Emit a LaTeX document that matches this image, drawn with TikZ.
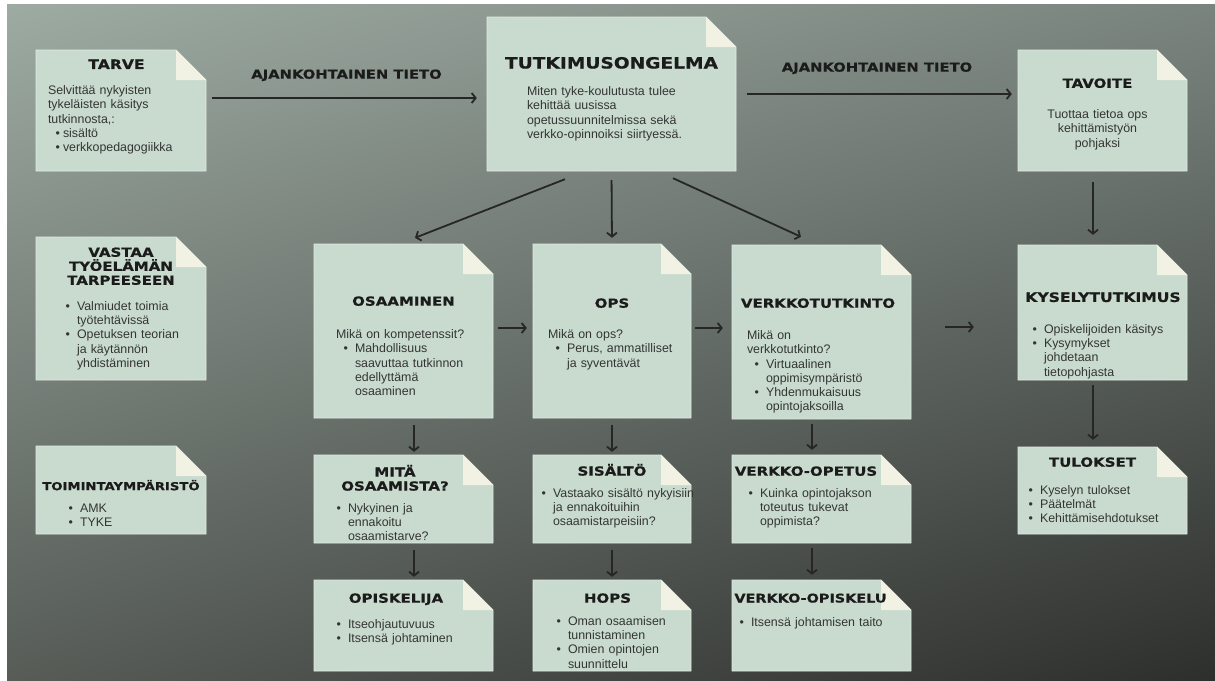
\documentclass[tikz,border=0pt]{standalone}
\usepackage{fontspec}
\setmainfont{Liberation Sans}
\newfontfamily\titlefont{DejaVu Sans}[FakeStretch=1.2, BoldFeatures={FakeBold=0.6}]
\usetikzlibrary{arrows.meta,positioning,shadings}

\definecolor{bgUL}{HTML}{9DABA2}
\definecolor{bgUR}{HTML}{7A847E}
\definecolor{bgLL}{HTML}{575C57}
\definecolor{bgLR}{HTML}{2D2F2D}
\definecolor{notefill}{HTML}{C9DBCF}
\definecolor{notefold}{HTML}{F1F1E4}
\definecolor{noteline}{HTML}{E2EBE3}
\definecolor{titlecol}{HTML}{1B1B1B}
\definecolor{bodycol}{HTML}{333533}
\definecolor{arrowcol}{HTML}{262626}

\newenvironment{bullets}[1][7pt]{\begin{list}{\textbullet}{\setlength\labelsep{#1}\setlength\labelwidth{12pt}\setlength\leftmargin{\dimexpr#1+12pt\relax}\setlength\itemsep{0pt}\setlength\topsep{0pt}\setlength\parsep{0pt}\setlength\partopsep{0pt}}}{\end{list}}

\def\notebox(#1)(#2,#3)(#4,#5){%
  \fill[notefill, draw=noteline, line width=0.8pt] (#2,#3) -- ({#4-30},#3) -- (#4,{#3+30}) -- (#4,#5) -- (#2,#5) -- cycle;
  \fill[notefold] ({#4-30},#3) -- ({#4-30},{#3+30}) -- (#4,{#3+30}) -- cycle;
  \node[inner sep=0pt, minimum width={#4-#2}, minimum height={#5-#3}] (#1) at ({(#2+#4)/2},{(#3+#5)/2}) {};
}

\begin{document}
\begin{tikzpicture}[x=1pt, y=-1pt,
    notetitle/.style={inner sep=0pt, align=center, text=titlecol, font=\titlefont\bfseries\fontsize{12.5}{14}\selectfont},
    notebody/.style={inner sep=0pt, align=left, text width=170pt, text=bodycol, font=\fontsize{12.4}{14.3}\selectfont},
    flow/.style={draw=arrowcol, line width=1.8pt, -{Straight Barb[length=4pt,width=10pt]}},
    flowlabel/.style={inner sep=0pt, text=titlecol, font=\titlefont\bfseries\fontsize{12.3}{14}\selectfont}]

    %%%%% BACKGROUND %%%%%
    \useasboundingbox (0,0) rectangle (1215,680);
    \fill[white] (0,0) rectangle (1215,680);
    \shade[upper left=bgUL, upper right=bgUR, lower left=bgLL, lower right=bgLR] (7,4) rectangle (1215,680);

    %%%%% NOTES %%%%%
    \notebox(tarve)(36,50)(206,171)
    \notebox(ongelma)(487,17)(736,171)
    \notebox(tavoite)(1018,50)(1187,171)
    \notebox(vastaa)(36,237)(206,380)
    \notebox(toiminta)(36,446)(206,534)
    \notebox(osaaminen)(314,244)(493,418)
    \notebox(ops)(533,244)(691,418)
    \notebox(verkko)(732,245)(911,419)
    \notebox(kysely)(1018,245)(1187,380)
    \notebox(mita)(314,455)(493,543)
    \notebox(sisalto)(533,455)(691,543)
    \notebox(vopetus)(732,455)(911,543)
    \notebox(tulokset)(1018,447)(1187,534)
    \notebox(opiskelija)(314,580)(493,671)
    \notebox(hops)(533,580)(691,671)
    \notebox(vopiskelu)(732,580)(911,671)

    %%%%% TOP ROW %%%%%
    \node[notetitle, font=\titlefont\bfseries\fontsize{13}{15}\selectfont, below=9.5pt of tarve.north, xshift=-4.5pt] (tarve-title) {TARVE};
    \node[notebody, below right=35.5pt and 12pt of tarve.north west] (tarve-text) {Selvittää nykyisten\\tykeläisten käsitys\\tutkinnosta,:
      \begin{bullets}[3pt]\item sisältö \item verkkopedagogiikka\end{bullets}};

    \node[notetitle, font=\titlefont\bfseries\fontsize{15.5}{17}\selectfont, below=40pt of ongelma.north] (ongelma-title) {TUTKIMUSONGELMA};
    \node[notebody, below right=69.5pt and 40pt of ongelma.north west] (ongelma-text) {Miten tyke-koulutusta tulee\\kehittää uusissa\\opetussuunnitelmissa sekä\\verkko-opinnoiksi siirtyessä.};

    \node[notetitle, below=28.5pt of tavoite.north, xshift=-5pt] (tavoite-title) {TAVOITE};
    \node[notebody, align=center, below=59.5pt of tavoite.north, xshift=-5pt] (tavoite-text) {Tuottaa tietoa ops\\kehittämistyön\\pohjaksi};

    %%%%% LEFT COLUMN %%%%%
    \node[notetitle, below=10.5pt of vastaa.north] (vastaa-title) {VASTAA\\TYÖELÄMÄN\\TARPEESEEN};
    \node[notebody, below right=59pt and 22pt of vastaa.north west] (vastaa-text) {\begin{bullets}
      \item Valmiudet toimia\\työtehtävissä
      \item Opetuksen teorian\\ja käytännön\\yhdistäminen\end{bullets}};

    \node[notetitle, font=\titlefont\bfseries\fontsize{11}{13}\selectfont, below=34pt of toiminta.north] (toiminta-title) {TOIMINTAYMPÄRISTÖ};
    \node[notebody, below right=52pt and 25pt of toiminta.north west] (toiminta-text) {\begin{bullets}\item AMK \item TYKE\end{bullets}};

    %%%%% MIDDLE ROW %%%%%
    \node[notetitle, below=52.4pt of osaaminen.north] (osaaminen-title) {OSAAMINEN};
    \node[notebody, below right=85.5pt and 22pt of osaaminen.north west] (osaaminen-text) {Mikä on kompetenssit?
      \begin{bullets}\item Mahdollisuus\\saavuttaa tutkinnon\\edellyttämä\\osaaminen\end{bullets}};

    \node[notetitle, below=54.4pt of ops.north] (ops-title) {OPS};
    \node[notebody, below right=85.5pt and 15pt of ops.north west] (ops-text) {Mikä on ops?
      \begin{bullets}\item Perus, ammatilliset\\ja syventävät\end{bullets}};

    \node[notetitle, below=53.4pt of verkko.north, xshift=-3.5pt] (verkko-title) {VERKKOTUTKINTO};
    \node[notebody, below right=85.5pt and 15pt of verkko.north west] (verkko-text) {Mikä on\\verkkotutkinto?
      \begin{bullets}\item Virtuaalinen\\oppimisympäristö \item Yhdenmukaisuus\\opintojaksoilla\end{bullets}};

    \node[notetitle, font=\titlefont\bfseries\fontsize{13}{15}\selectfont, below=47.3pt of kysely.north, xshift=0.5pt] (kysely-title) {KYSELYTUTKIMUS};
    \node[notebody, below right=74pt and 7pt of kysely.north west] (kysely-text) {\begin{bullets}
      \item Opiskelijoiden käsitys \item Kysymykset\\johdetaan\\tietopohjasta\end{bullets}};

    %%%%% LOWER ROWS %%%%%
    \node[notetitle, below=10pt of mita.north, xshift=-8.5pt] (mita-title) {MITÄ\\OSAAMISTA?};
    \node[notebody, below right=43pt and 15pt of mita.north west] (mita-text) {\begin{bullets}\item Nykyinen ja\\ennakoitu\\osaamistarve?\end{bullets}};

    \node[notetitle, below=9pt of sisalto.north] (sisalto-title) {SISÄLTÖ};
    \node[notebody, below right=28pt and 1pt of sisalto.north west] (sisalto-text) {\begin{bullets}\item Vastaako sisältö nykyisiin\\ja ennakoituihin\\osaamistarpeisiin?\end{bullets}};

    \node[notetitle, below=11.4pt of vopetus.north, xshift=-15.5pt] (vopetus-title) {VERKKO-OPETUS};
    \node[notebody, below right=28pt and 9pt of vopetus.north west] (vopetus-text) {\begin{bullets}\item Kuinka opintojakson\\toteutus tukevat\\oppimista?\end{bullets}};

    \node[notetitle, below=10.4pt of tulokset.north, xshift=-10pt] (tulokset-title) {TULOKSET};
    \node[notebody, below right=33pt and 3pt of tulokset.north west] (tulokset-text) {\begin{bullets}
      \item Kyselyn tulokset \item Päätelmät \item Kehittämisehdotukset\end{bullets}};

    \node[notetitle, below=13.4pt of opiskelija.north, xshift=-7.5pt] (opiskelija-title) {OPISKELIJA};
    \node[notebody, below right=34pt and 15pt of opiskelija.north west] (opiskelija-text) {\begin{bullets}\item Itseohjautuvuus \item Itsensä johtaminen\end{bullets}};

    \node[notetitle, below=13.4pt of hops.north, xshift=-4.5pt] (hops-title) {HOPS};
    \node[notebody, below right=31pt and 16pt of hops.north west] (hops-text) {\begin{bullets}
      \item Oman osaamisen\\tunnistaminen \item Omien opintojen\\suunnittelu\end{bullets}};

    \node[notetitle, font=\titlefont\bfseries\fontsize{12}{14}\selectfont, below=13.6pt of vopiskelu.north, xshift=-11pt] (vopiskelu-title) {VERKKO-OPISKELU};
    \node[notebody, below right=32pt and 0pt of vopiskelu.north west] (vopiskelu-text) {\begin{bullets}\item Itsensä johtamisen taito\end{bullets}};

    %%%%% ARROWS %%%%%
    \draw[flow, shorten <=6pt, shorten >=10pt] ([yshift=12.5pt]tarve.east) -- ([yshift=12.5pt]tarve.east -| ongelma.west)
      node[flowlabel, midway, above=16pt] (tieto-a) {AJANKOHTAINEN TIETO};
    \draw[flow, shorten <=11pt, shorten >=6pt] (ongelma.east) -- (ongelma.east -| tavoite.west)
      node[flowlabel, midway, above=19pt] (tieto-b) {AJANKOHTAINEN TIETO};

    \draw[flow] ([xshift=-46.5pt, yshift=-8pt]ongelma.south) -- ([xshift=11.5pt, yshift=6pt]osaaminen.north);
    \draw[flow, shorten <=9pt, shorten >=6pt] (ongelma.south) -- (ops.north);
    \draw[flow] ([xshift=61.5pt, yshift=-7pt]ongelma.south) -- ([xshift=-20.5pt, yshift=8pt]verkko.north);

    \draw[flow, shorten <=5pt, shorten >=6pt] ([yshift=3pt]osaaminen.east) -- ([yshift=3pt]ops.west);
    \draw[flow, shorten <=4pt, shorten >=9pt] ([yshift=3pt]ops.east) -- ([yshift=3pt]ops.east -| verkko.west);
    \draw[flow, shorten <=34pt, shorten >=44pt] ([yshift=5pt]verkko.east) -- ([yshift=5pt]verkko.east -| kysely.west);

    \draw[flow, shorten <=11pt, shorten >=10pt] ([xshift=-9.5pt]tavoite.south) -- ([xshift=-9.5pt]tavoite.south |- kysely.north);
    \draw[flow, shorten <=5pt, shorten >=7pt] ([xshift=-9.5pt]kysely.south) -- ([xshift=-9.5pt]kysely.south |- tulokset.north);

    \draw[flow, shorten <=7pt, shorten >=3pt] ([xshift=10.5pt]osaaminen.south) -- ([xshift=10.5pt]osaaminen.south |- mita.north);
    \draw[flow, shorten <=7pt, shorten >=3pt] ([xshift=10.5pt]mita.south) -- ([xshift=10.5pt]mita.south |- opiskelija.north);
    \draw[flow, shorten <=7pt, shorten >=3pt] (ops.south) -- (sisalto.north);
    \draw[flow, shorten <=7pt, shorten >=3pt] (sisalto.south) -- (hops.north);
    \draw[flow, shorten <=5pt, shorten >=5pt] ([xshift=-9.5pt]verkko.south) -- ([xshift=-9.5pt]verkko.south |- vopetus.north);
    \draw[flow, shorten <=5pt, shorten >=5pt] ([xshift=-9.5pt]vopetus.south) -- ([xshift=-9.5pt]vopetus.south |- vopiskelu.north);

\end{tikzpicture}
\end{document}
